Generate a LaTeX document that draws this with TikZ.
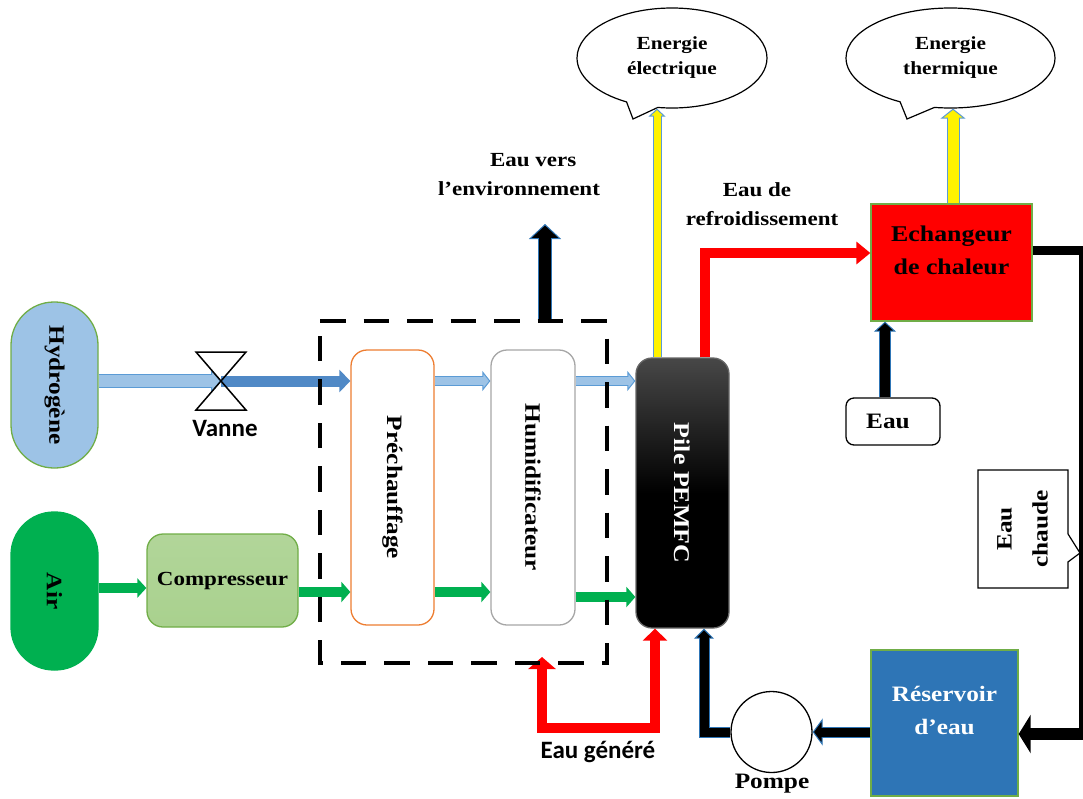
\documentclass[tikz,border=0pt]{standalone}
\usepackage{fontspec}
\setmainfont[FakeStretch=1.15]{Liberation Serif}
\newfontfamily\labelsans{Carlito}
\usetikzlibrary{arrows.meta, shapes.callouts, positioning, calc}

\definecolor{hydroblue}{HTML}{9DC3E6}
\definecolor{edgeblue}{HTML}{5B9BD5}
\definecolor{valveblue}{HTML}{5089C6}
\definecolor{deepblue}{HTML}{2E75B6}
\definecolor{airgreen}{HTML}{00B050}
\definecolor{boxgreen}{HTML}{70AD47}
\definecolor{compgreen}{HTML}{A9D18E}
\definecolor{preorange}{HTML}{ED7D31}

\newcommand{\vtext}[1]{\rotatebox[origin=c]{-90}{#1}}

\tikzset{
    lbl/.style={font=\bfseries\fontsize{20}{29}\selectfont, align=center, inner sep=0pt},
    widelbl/.style={font=\bfseries\fontsize{22}{33}\selectfont, align=center, inner sep=0pt},
    biglbl/.style={font=\bfseries\fontsize{22.5}{33}\selectfont, align=center, inner sep=0pt},
    smalllbl/.style={font=\bfseries\fontsize{18.5}{25}\selectfont, align=center, inner sep=0pt},
    sanslbl/.style={font=\labelsans\bfseries\fontsize{25}{28}\selectfont, inner sep=0pt},
    blockbox/.style n args={2}{draw, rounded corners=#1pt, line width=1.3pt, inner sep=0pt, minimum width=#2pt},
    cloud/.style={ellipse callout, draw, line width=1.2pt, fill=white, inner sep=0pt, callout pointer arc=20},
    flow/.style n args={4}{draw=#1, line width=#2pt, -{Triangle[length=#3pt,width=#4pt]}},
    bflow/.style n args={5}{draw=#2, line width=#3pt+2pt,
        -{Triangle[length=#4pt,width=#5pt,fill=#1,line width=1pt]},
        postaction={draw=#1, line width=#3pt, -, shorten >=#4pt-3pt}},
    dashbox/.style={line width=4pt, dash pattern=on 25.5pt off 18pt},
}

\begin{document}
\begin{tikzpicture}[x=1pt, y=-1pt]
    \path[use as bounding box, clip] (0,0) rectangle (1083,798);

    \coordinate (hline) at (0,381);
    \coordinate (airline) at (0,588);
    \coordinate (airmid) at (0,592);
    \coordinate (airpile) at (0,597);
    \coordinate (vanne) at (221,381);
    \coordinate (hotturn) at (1083,250);
    \coordinate (hotback) at (1083,734);
    \coordinate (coolturn) at (705,253);
    \coordinate (genleft) at (542,728);
    \coordinate (gentop) at (542,657);
    \coordinate (pumpturn) at (704,732);
    \coordinate (ventbase) at (545,321);
    \coordinate (venttop) at (545,224);
    \coordinate (eauline) at (885,0);

    \node[blockbox={43}{87}, draw=boxgreen, fill=hydroblue, minimum height=166pt, widelbl] (hydro) at (54.5,385) {\vtext{Hydrogène}};
    \node[blockbox={43}{87}, draw=airgreen, fill=airgreen, minimum height=158pt, widelbl] (air) at (54.5,591) {\vtext{Air}};
    \node[blockbox={16}{151}, draw=boxgreen, top color=compgreen!90!white, bottom color=compgreen, minimum height=93pt, lbl] (comp) at (222.5,580.5) {Compresseur};
    \node[blockbox={16}{83}, draw=preorange, fill=white, minimum height=275pt, widelbl] (pre) at (392.5,487.5) {\vtext{Préchauffage}};
    \node[blockbox={16}{84}, draw=black!35, fill=white, minimum height=275pt, widelbl] (hum) at (533,487.5) {\vtext{Humidificateur}};
    \node[blockbox={16}{93}, draw=black!60, top color=black!72, bottom color=black, middle color=black, minimum height=270pt, biglbl, text=white] (pile) at (682.5,493) {\vtext{Pile PEMFC}};

    \node[cloud, minimum width=190pt, minimum height=100pt, smalllbl, callout absolute pointer={(633,119)}] (elec) at (672,58) {Energie\\électrique};
    \node[cloud, minimum width=209pt, minimum height=100pt, smalllbl, callout absolute pointer={(907,119)}] (therm) at (950.5,58) {Energie\\thermique};

    \node[draw=boxgreen, fill=red, line width=1.3pt, minimum width=161pt, minimum height=117pt, biglbl, inner sep=0pt] (echg) at (951.5,262.5) {Echangeur\\de chaleur\\[-9pt]~};
    \node[draw=boxgreen, fill=deepblue, line width=1.3pt, minimum width=147pt, minimum height=146pt, widelbl, text=white, inner sep=0pt] (res) at (944.5,723) {Réservoir\\d’eau\\[-7pt]~};
    \node[blockbox={8}{94}, draw=black, minimum height=47pt, widelbl] (eau) at (893,421.5) {Eau\hspace{10pt}};
    \node[circle, draw, line width=1.3pt, fill=white, minimum size=81pt, inner sep=0pt] (pompe) at (771.5,732) {};
    \node[rectangle callout, draw, line width=1.2pt, fill=white, minimum width=90pt, minimum height=118pt, inner sep=0pt, widelbl, callout absolute pointer={(1080,553)}, callout pointer width=28pt] (chaude) at (1023,529) {\rotatebox[origin=c]{90}{\begin{tabular}{@{}c@{}}Eau\\[3pt]chaude\end{tabular}}};

    \node[sanslbl] (vannelbl) at (225,428) {Vanne};
    \node[sanslbl] (genlbl) at (598,752) {Eau généré};
    \node[widelbl] (pompelbl) at (772,784) {Pompe};
    \node[lbl, align=left] (ventlbl) at (519,175) {\hspace*{52pt}Eau vers\\l’environnement};
    \node[lbl, align=left] (coollbl) at (762,204) {\hspace*{37pt}Eau de\\refroidissement};

    % hydrogene et air
    \draw[bflow={hydroblue}{edgeblue}{12}{10}{24}] (hydro.east |- hline) -- (vanne);
    \draw[flow={valveblue}{11}{11}{22}] (vanne) -- (pre.west |- hline);
    \draw[bflow={hydroblue}{edgeblue}{8}{8}{20}] (pre.east |- hline) -- (hum.west |- hline);
    \draw[bflow={hydroblue}{edgeblue}{8}{8}{20}] (hum.east |- hline) -- (pile.west |- hline);
    \draw[flow={airgreen}{10}{9}{19}] (air.east |- airline) -- (comp.west |- airline);
    \draw[flow={airgreen}{10}{9}{20}] (comp.east |- airmid) -- (pre.west |- airmid);
    \draw[flow={airgreen}{10}{9}{20}] (pre.east |- airmid) -- (hum.west |- airmid);
    \draw[flow={airgreen}{10}{9}{20}] (hum.east |- airpile) -- (pile.west |- airpile);

    \draw[line width=1.5pt] ($(vanne)+(-25,-29)$) -- ($(vanne)+(25,-29)$) -- ($(vanne)+(-25,29)$) -- ($(vanne)+(25,29)$) -- cycle;

    % sorties de la pile
    \draw[bflow={yellow}{edgeblue}{7}{8}{17}] ([xshift=-25.5pt]pile.north) -- ([xshift=-25.5pt]pile.north |- elec.south);
    \draw[bflow={yellow}{edgeblue}{11}{10}{25}] ([xshift=1.5pt]echg.north) -- ([xshift=1.5pt]echg.north |- therm.south);
    \draw[flow={red}{10}{14}{22}] (pile.north -| coolturn) -- (coolturn) -- (echg.west |- coolturn);
    \draw[bflow={black}{deepblue}{12}{15}{32}] (ventbase) -- (venttop);
    \draw[line width=10pt, red, {Triangle[length=12pt,width=24pt]}-{Triangle[length=12pt,width=27pt]}] ([xshift=-27.5pt]pile.south) |- (genleft) -- (gentop);

    % circuit d'eau
    \draw[bflow={black}{deepblue}{10}{10}{22}] (eau.north -| eauline) -- (echg.south -| eauline);
    \draw[line width=9pt] (echg.east |- hotturn) -- (hotturn) -- (hotback);
    \draw[flow={black}{12}{12}{38}] (hotback) -- (res.east |- hotback);
    \draw[bflow={black}{deepblue}{9}{10}{27}] (res.west |- pompe) -- (pompe.east);
    \draw[bflow={black}{deepblue}{9}{10}{20}] (pompe.west) -- (pumpturn) -- (pile.south -| pumpturn);

    \draw[dashbox] (320,321) -- (607,321) -- (607,663) -- (320,663) -- cycle;
\end{tikzpicture}
\end{document}
